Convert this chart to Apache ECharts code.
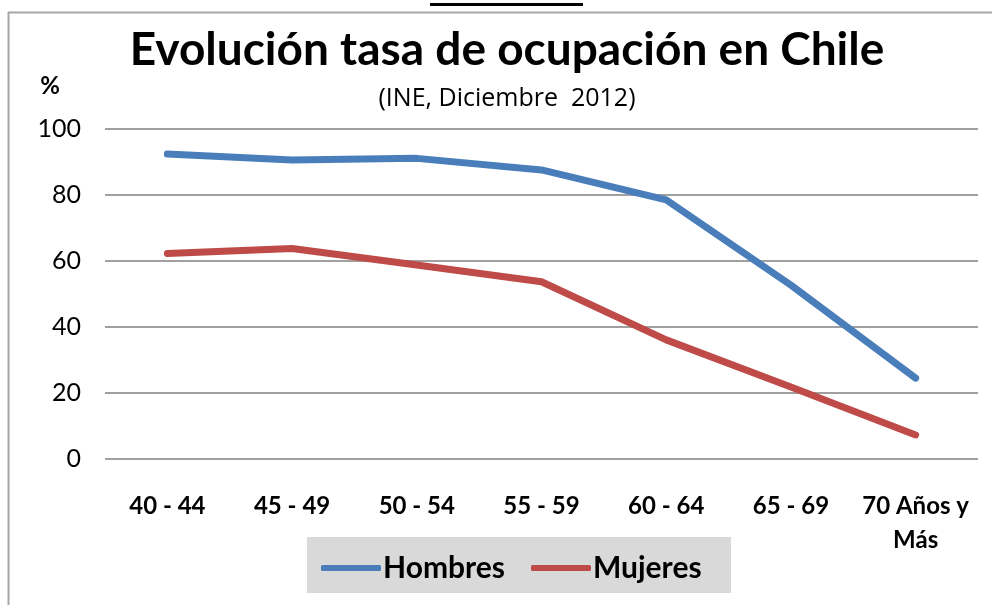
<!DOCTYPE html>
<html><head><meta charset="utf-8">
<script src="https://cdn.jsdelivr.net/npm/echarts@6/dist/echarts.min.js"></script>
<style>html,body{margin:0;padding:0;background:#fff}#c{width:992px;height:605px}</style>
</head><body><div id="c"></div>
<script>
var categories = ['40 - 44','45 - 49','50 - 54','55 - 59','60 - 64','65 - 69','70 Años y\nMás'];
var hombres = [92.4, 90.6, 91.1, 87.6, 78.5, 52.7, 24.5];
var mujeres = [62.3, 63.8, 58.8, 53.7, 36.1, 21.8, 7.3];
var yTicks = [0, 20, 40, 60, 80, 100];

var F = 'Lato, "Open Sans", sans-serif';
var chart = echarts.init(document.getElementById('c'));
chart.setOption({
  animation: false,
  backgroundColor: '#fff',
  color: ['#4a7ebb', '#be4b48'],
  grid: {left: 105, right: 14, top: 129, bottom: 146, containLabel: false},
  graphic: [
    {type: 'line', shape: {x1: 8, y1: 12.5, x2: 992, y2: 12.5}, style: {stroke: '#a6a6a6', lineWidth: 2}},
    {type: 'line', shape: {x1: 8.5, y1: 12, x2: 8.5, y2: 605}, style: {stroke: '#a6a6a6', lineWidth: 2}},
    {type: 'text', x: 506, y: 4, style: {text: 'Gráfico N° 3', font: 'bold 24px ' + F, fill: '#000', align: 'center', verticalAlign: 'bottom'}},
    {type: 'rect', shape: {x: 430, y: 3, width: 153, height: 3}, style: {fill: '#000'}},
    {type: 'text', x: 507, y: 50, style: {text: 'Evolución tasa de ocupación en Chile', font: 'bold 46px ' + F, fill: '#000', align: 'center', verticalAlign: 'middle'}},
    {type: 'text', x: 507, y: 99, style: {text: '(INE, Diciembre  2012)', font: '25px "Open Sans", sans-serif', fill: '#000', align: 'center', verticalAlign: 'middle'}},
    {type: 'text', x: 50, y: 86, style: {text: '%', font: 'bold 24px ' + F, fill: '#000', align: 'center', verticalAlign: 'middle'}},
    {type: 'rect', shape: {x: 307, y: 537, width: 424, height: 56}, style: {fill: '#d9d9d9'}, z: -1}
  ],
  legend: {
    left: 316, top: 548, itemWidth: 60, itemHeight: 6, itemGap: 26,
    icon: 'roundRect',
    textStyle: {fontFamily: F, fontWeight: 'bold', fontSize: 30, color: '#000', padding: [0,0,0,-3]},
    data: ['Hombres', 'Mujeres']
  },
  xAxis: {
    type: 'category', data: categories, boundaryGap: true,
    axisLine: {show: false}, axisTick: {show: false},
    axisLabel: {fontFamily: F, fontWeight: 'bold', fontSize: 24, color: '#000', margin: 30, lineHeight: 34, interval: 0}
  },
  yAxis: {
    type: 'value', min: 0, max: 100, interval: 20,
    axisLine: {show: false}, axisTick: {show: false},
    axisLabel: {fontFamily: F, fontSize: 25, color: '#000', margin: 24,
      formatter: function(v){ return yTicks.indexOf(v) >= 0 ? String(v) : ''; }},
    splitLine: {lineStyle: {color: '#a0a0a0', width: 2}}
  },
  series: [
    {name: 'Hombres', type: 'line', data: hombres, symbol: 'none', lineStyle: {width: 7, cap: 'round', join: 'round'}},
    {name: 'Mujeres', type: 'line', data: mujeres, symbol: 'none', lineStyle: {width: 7, cap: 'round', join: 'round'}}
  ]
});
</script></body></html>
